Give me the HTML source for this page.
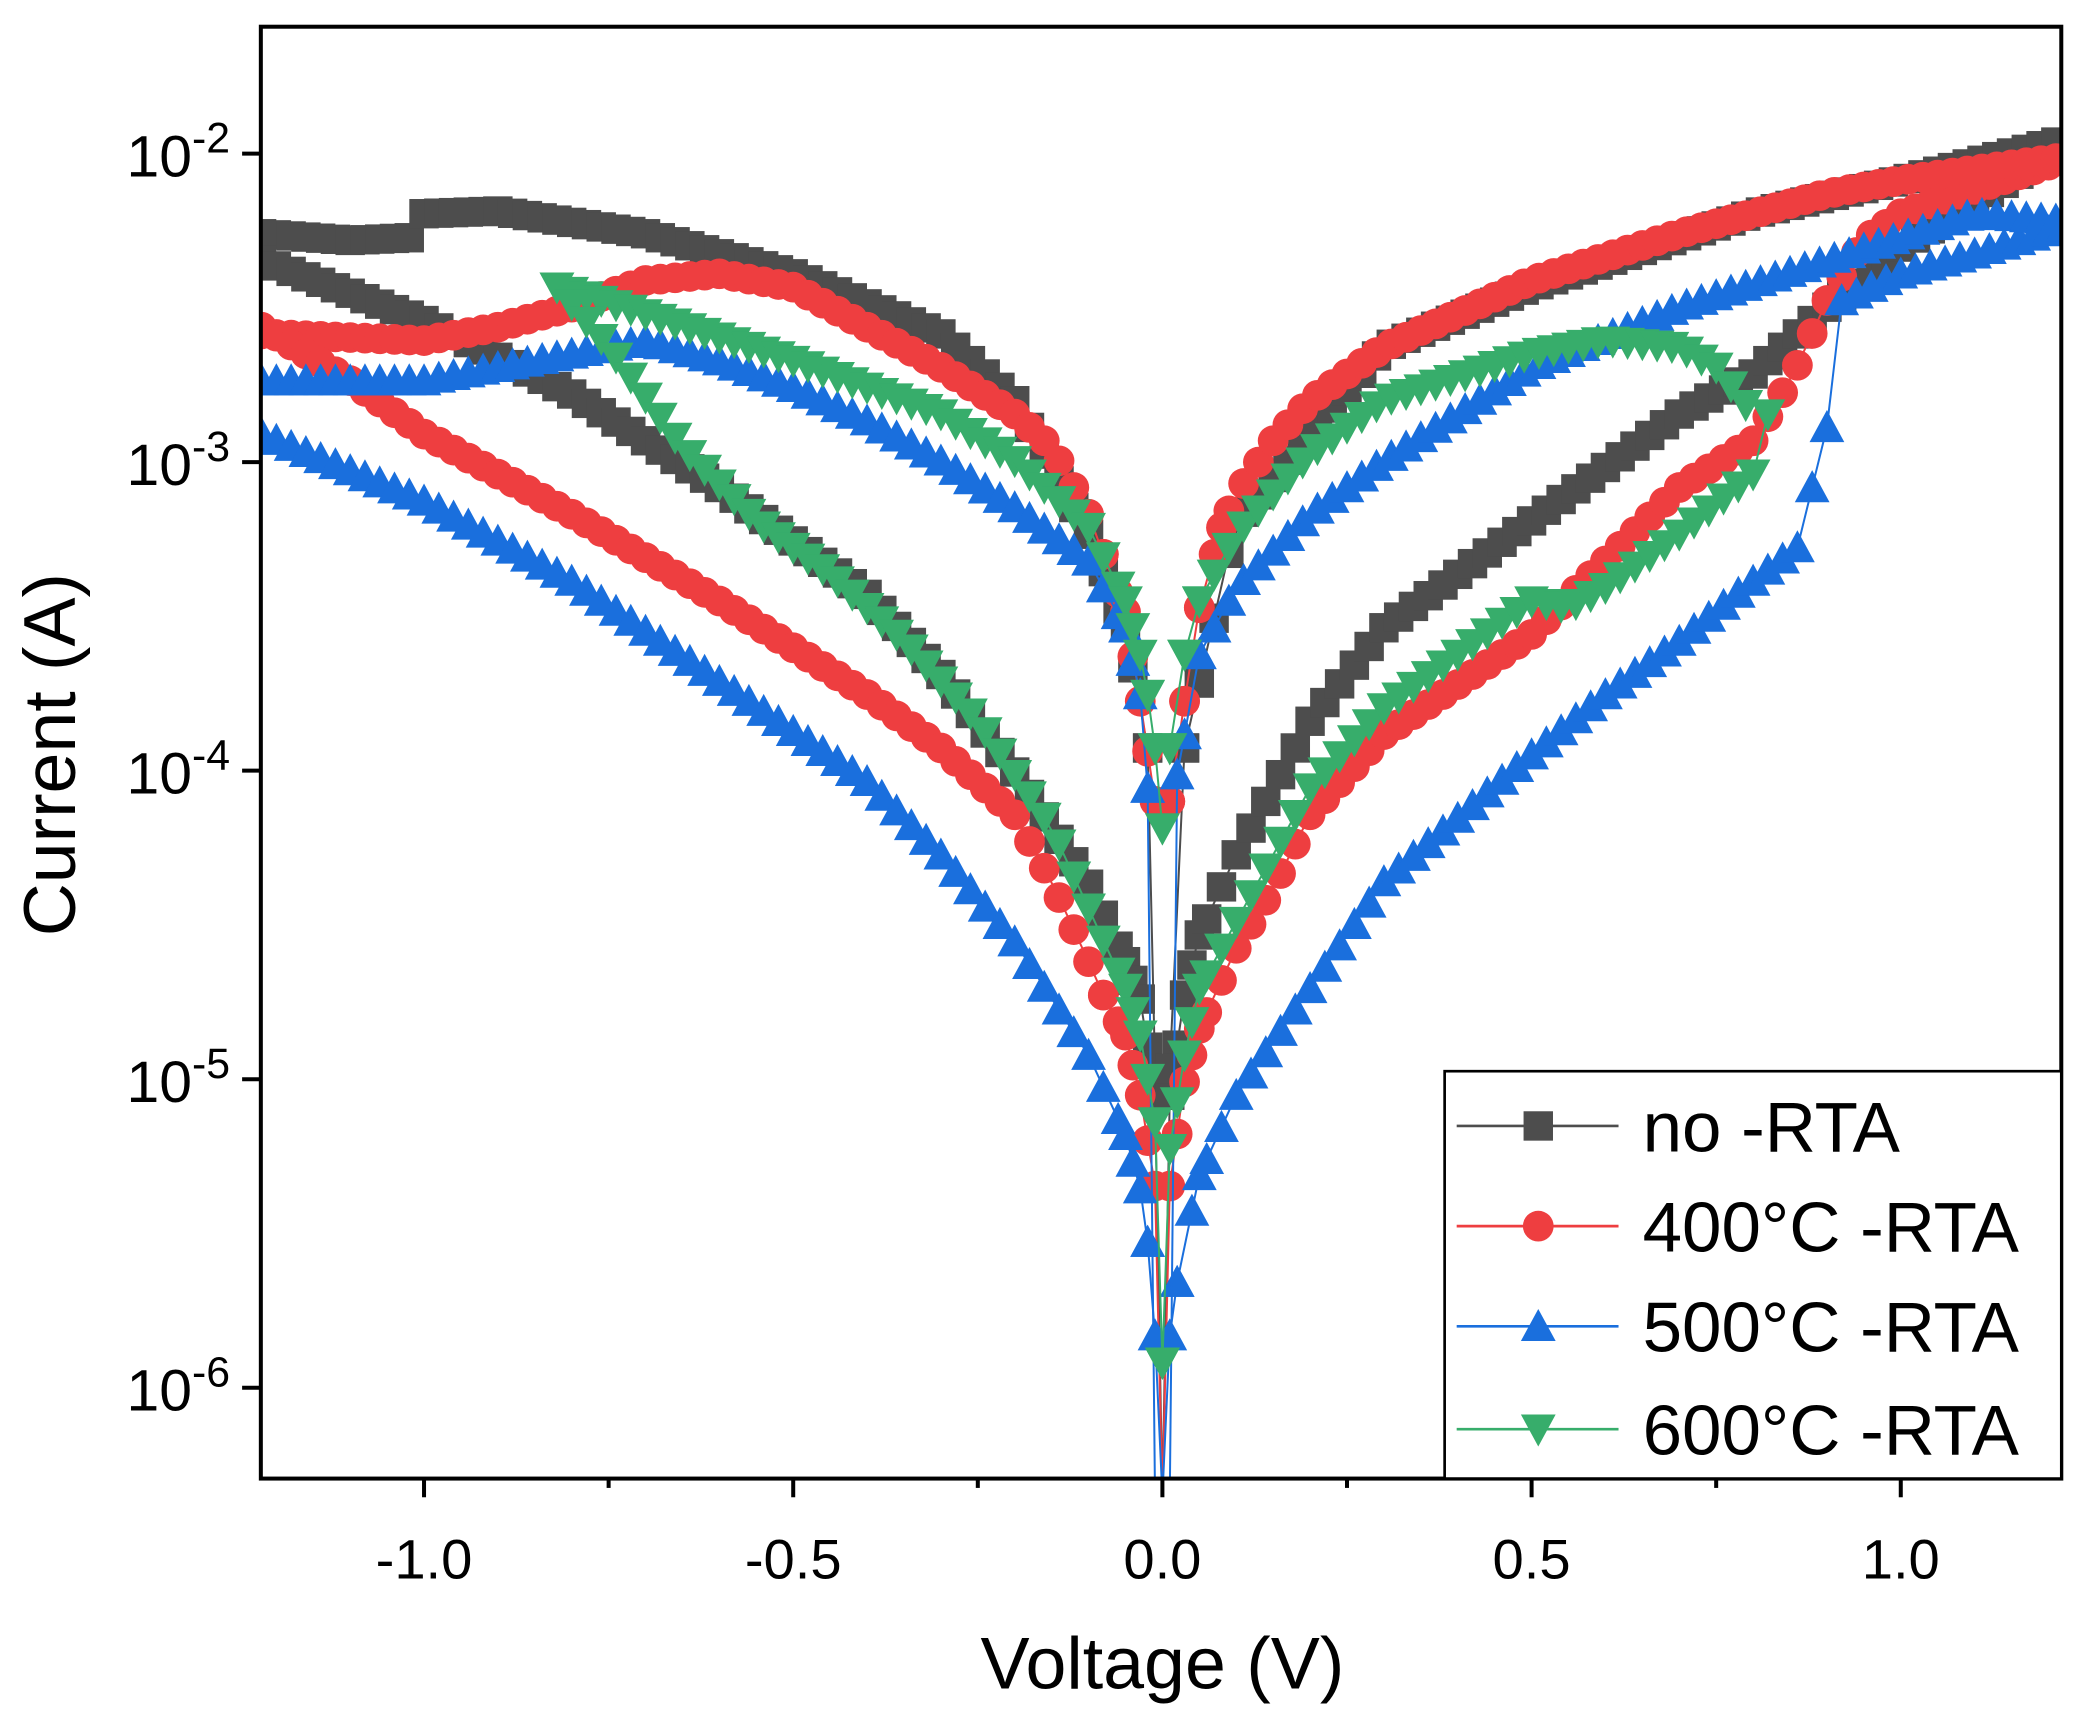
<!DOCTYPE html>
<html><head><meta charset="utf-8"><style>html,body{margin:0;padding:0;background:#fff}svg{display:block}</style></head>
<body>
<svg id="s" width="2076" height="1723" viewBox="0 0 1552 1290" preserveAspectRatio="none" xmlns="http://www.w3.org/2000/svg" font-family="Liberation Sans, Arial, sans-serif">
<rect width="1552" height="1290" fill="#fff"/>
<defs><clipPath id="c"><rect x="195" y="20" width="1346" height="1087"/></clipPath></defs>
<g id="data" clip-path="url(#c)"></g>
<rect x="195" y="20" width="1346" height="1087" fill="none" stroke="#000" stroke-width="3"/>
<g stroke="#000" stroke-width="3">
<line x1="317" y1="1107" x2="317" y2="1121"/><line x1="593" y1="1107" x2="593" y2="1121"/><line x1="869" y1="1107" x2="869" y2="1121"/><line x1="1145" y1="1107" x2="1145" y2="1121"/><line x1="1421" y1="1107" x2="1421" y2="1121"/>
<line x1="455" y1="1107" x2="455" y2="1114"/><line x1="731" y1="1107" x2="731" y2="1114"/><line x1="1007" y1="1107" x2="1007" y2="1114"/><line x1="1283" y1="1107" x2="1283" y2="1114"/>
<line x1="181" y1="115" x2="195" y2="115"/><line x1="181" y1="346" x2="195" y2="346"/><line x1="181" y1="577" x2="195" y2="577"/><line x1="181" y1="808" x2="195" y2="808"/><line x1="181" y1="1039" x2="195" y2="1039"/>
</g>
<g font-size="42" text-anchor="middle" fill="#000">
<text x="317" y="1182">-1.0</text><text x="593" y="1182">-0.5</text><text x="869" y="1182">0.0</text><text x="1145" y="1182">0.5</text><text x="1421" y="1182">1.0</text>
</g>
<g font-size="44" text-anchor="end" fill="#000">
<text x="172" y="132">10<tspan dy="-18" font-size="32">-2</tspan></text>
<text x="172" y="363">10<tspan dy="-18" font-size="32">-3</tspan></text>
<text x="172" y="594">10<tspan dy="-18" font-size="32">-4</tspan></text>
<text x="172" y="825">10<tspan dy="-18" font-size="32">-5</tspan></text>
<text x="172" y="1056">10<tspan dy="-18" font-size="32">-6</tspan></text>
</g>
<text x="869" y="1264" font-size="55" text-anchor="middle">Voltage (V)</text>
<text transform="translate(56,565) rotate(-90)" font-size="55" text-anchor="middle">Current (A)</text>
<rect x="1080" y="802" width="461" height="305" fill="#fff" stroke="#000" stroke-width="2"/>
<g id="leg"></g>
<g font-size="53" fill="#000">
<text x="1228" y="862">no -RTA</text><text x="1228" y="937">400°C -RTA</text><text x="1228" y="1012">500°C -RTA</text><text x="1228" y="1089">600°C -RTA</text>
</g>
</svg>
<script>
var NS="http://www.w3.org/2000/svg";
function X(v){return 869+v*552;}
function interp(k,v){for(var i=0;i<k.length-1;i++){if(v>=k[i][0]&&v<=k[i+1][0]){var t=(v-k[i][0])/(k[i+1][0]-k[i][0]||1);return k[i][1]+t*(k[i+1][1]-k[i][1]);}}return k[k.length-1][1];}
function sample(k){var a=k[0][0],b=k[k.length-1][0],pts=[];for(var v=a;v<=b+1e-9;v+=0.02){pts.push([X(v),interp(k,v)]);}
 k.forEach(function(p){if(Math.abs(p[0])<0.1)pts.push([X(p[0]),p[1]]);});pts.sort(function(p,q){return p[0]-q[0];});return pts;}
function marker(g,type,x,y,col){var e;
 if(type=="s"){e=document.createElementNS(NS,"rect");e.setAttribute("x",x-11);e.setAttribute("y",y-11);e.setAttribute("width",22);e.setAttribute("height",22);}
 else if(type=="c"){e=document.createElementNS(NS,"circle");e.setAttribute("cx",x);e.setAttribute("cy",y);e.setAttribute("r",11.5);}
 else if(type=="u"){e=document.createElementNS(NS,"polygon");e.setAttribute("points",(x-13)+","+(y+11)+" "+(x+13)+","+(y+11)+" "+x+","+(y-13));}
 else {e=document.createElementNS(NS,"polygon");e.setAttribute("points",(x-13)+","+(y-11)+" "+(x+13)+","+(y-11)+" "+x+","+(y+13));}
 e.setAttribute("fill",col);g.appendChild(e);}
function series(branches,type,col){var g=document.getElementById("data");
 branches.forEach(function(k){var pts=sample(k);var pl=document.createElementNS(NS,"polyline");
  pl.setAttribute("points",pts.map(function(p){return p[0]+","+p[1];}).join(" "));pl.setAttribute("fill","none");pl.setAttribute("stroke",col);pl.setAttribute("stroke-width","1.5");g.appendChild(pl);
  pts.forEach(function(p){marker(g,type,p[0],p[1],col);});});}
var K="#4d4d4d",R="#ee3e40",B="#1a6fdd",G="#37ad6b";
series([
 [[-1.22,175],[-1.1,180],[-1.02,178],[-1.0,160],[-0.9,158],[-0.7,175],[-0.5,205],[-0.3,250],[-0.2,300],[-0.1,400],[-0.05,470],[-0.02,560],[-0.01,800]],
 [[-1.22,195],[-1.0,240],[-0.8,295],[-0.6,365],[-0.4,445],[-0.3,505],[-0.2,578],[-0.15,620],[-0.1,662],[-0.05,720],[-0.03,748],[-0.01,820],[0,1120]],
 [[0,1120],[0.01,820],[0.03,745],[0.05,700],[0.1,640],[0.15,590],[0.2,540],[0.3,470],[0.5,390],[0.7,310],[0.8,280],[0.9,230],[1.0,185],[1.22,110]],
 [[0.01,800],[0.03,560],[0.1,390],[0.3,260],[0.5,215],[0.8,160],[1.0,135],[1.22,105]]
],"s",K);
series([
 [[-1.22,250],[-1.0,255],[-0.9,245],[-0.8,230],[-0.7,210],[-0.6,205],[-0.5,215],[-0.4,245],[-0.3,275],[-0.2,310],[-0.15,335],[-0.1,385],[-0.08,415],[-0.05,458],[-0.03,525],[-0.01,600]],
 [[-1.22,245],[-1.1,285],[-1.0,325],[-0.8,385],[-0.6,450],[-0.4,520],[-0.3,560],[-0.2,610],[-0.15,660],[-0.1,720],[-0.08,745],[-0.05,775],[-0.03,820],[-0.01,888],[0,1120]],
 [[0,1120],[0.01,888],[0.03,810],[0.05,770],[0.1,710],[0.15,665],[0.2,610],[0.3,550],[0.5,475],[0.6,420],[0.7,365],[0.8,330],[0.85,285],[0.87,262],[0.9,225],[0.95,180],[1.0,160],[1.22,120]],
 [[0.01,600],[0.03,525],[0.05,455],[0.08,395],[0.1,370],[0.15,330],[0.2,300],[0.3,260],[0.5,210],[0.7,175],[0.9,145],[1.0,135],[1.22,118]]
],"c",R);
series([
 [[-1.22,285],[-1.0,285],[-0.8,265],[-0.7,255],[-0.6,270],[-0.5,290],[-0.4,315],[-0.3,345],[-0.2,380],[-0.1,420],[-0.05,470],[-0.03,520],[-0.02,590],[-0.01,1120]],
 [[-1.22,325],[-1.0,375],[-0.8,435],[-0.6,510],[-0.4,585],[-0.3,640],[-0.2,705],[-0.1,790],[-0.05,850],[-0.03,890],[-0.02,930],[-0.01,1000],[0,1120]],
 [[0,1120],[0.01,1000],[0.02,960],[0.05,880],[0.1,820],[0.2,740],[0.3,660],[0.5,565],[0.6,520],[0.7,480],[0.8,435],[0.86,410],[0.9,320],[0.92,225],[1.0,205],[1.1,190],[1.22,170]],
 [[0.01,1120],[0.02,580],[0.05,490],[0.1,440],[0.2,385],[0.3,345],[0.5,275],[0.7,230],[0.9,195],[1.1,160],[1.22,165]]
],"u",B);
series([
 [[-0.82,215],[-0.7,235],[-0.5,270],[-0.3,310],[-0.2,345],[-0.1,395],[-0.05,450],[-0.03,490],[-0.02,520],[-0.01,560],[0,620]],
 [[-0.82,215],[-0.75,260],[-0.65,335],[-0.55,390],[-0.45,430],[-0.35,480],[-0.25,540],[-0.2,580],[-0.15,620],[-0.1,680],[-0.05,740],[-0.03,775],[-0.01,840],[0,1020]],
 [[0,1020],[0.01,860],[0.03,790],[0.05,740],[0.1,690],[0.2,590],[0.3,530],[0.4,490],[0.5,450],[0.55,455],[0.6,440],[0.7,400],[0.8,355],[0.82,310]],
 [[0.01,560],[0.03,490],[0.05,450],[0.1,400],[0.2,340],[0.3,300],[0.5,265],[0.6,255],[0.7,260],[0.75,275],[0.8,310]]
],"d",G);
var lg=document.getElementById("leg");
[[843,K,"s"],[918,R,"c"],[993,B,"u"],[1070,G,"d"]].forEach(function(e){var l=document.createElementNS(NS,"line");
 l.setAttribute("x1",1089);l.setAttribute("x2",1210);l.setAttribute("y1",e[0]);l.setAttribute("y2",e[0]);l.setAttribute("stroke",e[1]);l.setAttribute("stroke-width",2);lg.appendChild(l);
 marker(lg,e[2],1150,e[0],e[1]);});
</script>
</body></html>
